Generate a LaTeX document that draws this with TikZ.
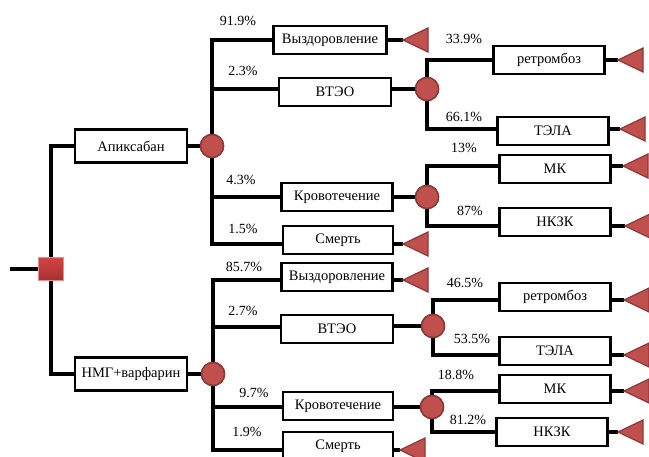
\documentclass[tikz,border=0pt]{standalone}
\usepackage{fontspec}
\setmainfont{Liberation Serif}
\definecolor{cred}{HTML}{C0504D}
\definecolor{cdark}{HTML}{8C3836}
\definecolor{sqtop}{HTML}{D24545}
\definecolor{sqbot}{HTML}{A83030}
\begin{document}
\begin{tikzpicture}[x=1pt,y=-1pt,
  txt/.style={font=\fontsize{14.5}{16}\selectfont},
  box/.style={draw, line width=2.6pt, fill=white, minimum width=111pt, minimum height=28pt, inner sep=0pt, txt},
  bigbox/.style={box, minimum width=112pt, minimum height=33pt},
  conn/.style={line width=3.2pt},
  chance/.style={circle, fill=cred, draw=cdark, line width=1.5pt, minimum size=23pt, inner sep=0pt},
  decide/.style={rectangle, top color=sqtop, bottom color=sqbot, draw=sqtop!60!white, line width=0.6pt, minimum width=25pt, minimum height=23pt, inner sep=0pt},
  prob/.style={font=\fontsize{14}{16}\selectfont, inner sep=0pt},
  term/.pic={\path[fill=cred, draw=cdark, line width=1.2pt, line join=miter] (0,0) -- (25,-12) -- (25,12) -- cycle;}
]
\clip (0,0) rectangle (649,457);

% root
\coordinate (root) at (10,269);
\node[decide] (sq) at (51,269) {};
\node[bigbox] (A) at (131,146) {Апиксабан};
\node[bigbox] (N) at (131,374) {НМГ+варфарин};
\node[chance] (c1) at (212,146) {};
\node[chance] (c2) at (213,374) {};

% top level-2 boxes
\node[box, minimum width=113pt] (b11) at (330,40) {Выздоровление};
\node[box, minimum width=112pt] (b12) at (335,92) {ВТЭО};
\node[box] (b13) at (337,197) {Кровотечение};
\node[box, minimum width=110pt] (b14) at (338,240) {Смерть};
\node[chance] (c12) at (427,89) {};
\node[chance] (c13) at (427,197) {};
\node[box] (b121) at (549,60) {ретромбоз};
\node[box] (b122) at (553,131) {ТЭЛА};
\node[box] (b131) at (555,169) {МК};
\node[box] (b132) at (555,222) {НКЗК};

% bottom level-2 boxes
\node[box] (b21) at (337,277) {Выздоровление};
\node[box, minimum width=112pt] (b22) at (337,329) {ВТЭО};
\node[box, minimum width=110pt] (b23) at (338,406) {Кровотечение};
\node[box, minimum width=110pt] (b24) at (338,446) {Смерть};
\node[chance] (c22) at (433,326) {};
\node[chance] (c23) at (432,407) {};
\node[box] (b221) at (555,297) {ретромбоз};
\node[box] (b222) at (555,351) {ТЭЛА};
\node[box] (b231) at (555,389) {МК};
\node[box] (b232) at (552,432) {НКЗК};

% terminal tips
\coordinate (t11) at (403,40);
\coordinate (t121) at (618,60);
\coordinate (t122) at (620,129);
\coordinate (t131) at (623,166);
\coordinate (t132) at (625,226);
\coordinate (t14) at (403,244);
\coordinate (t21) at (403,280);
\coordinate (t221) at (624,300);
\coordinate (t222) at (624,355);
\coordinate (t231) at (624,391);
\coordinate (t232) at (618,432);
\coordinate (t24) at (400,450);

% connectors
\begin{scope}[conn]
\draw (root) -- (sq);
\draw (sq.center) |- (A.west);
\draw (sq.center) |- (N.west);
\draw (A.east) -- (c1);
\draw (N.east) -- (c2);
% top
\draw (c1.center) |- (b11.west);
\draw (c1.center) |- ([yshift=3pt]b12.west);
\draw (c1.center) |- (b13.west);
\draw (c1.center) |- ([yshift=-4pt]b14.west);
\draw ([yshift=3pt]b12.east) -- (c12);
\draw (b13.east) -- (c13);
\draw (c12.center) |- (b121.west);
\draw (c12.center) |- ([yshift=2pt]b122.west);
\draw (c13.center) |- ([yshift=3pt]b131.west);
\draw (c13.center) |- ([yshift=-4pt]b132.west);
\draw (b11.east) -- (t11);
\draw (b121.east) -- (t121);
\draw ([yshift=2pt]b122.east) -- (t122);
\draw ([yshift=3pt]b131.east) -- (t131);
\draw ([yshift=-4pt]b132.east) -- (t132);
\draw ([yshift=-4pt]b14.east) -- (t14);
% bottom
\draw (c2.center) |- ([yshift=-3pt]b21.west);
\draw (c2.center) |- ([yshift=2pt]b22.west);
\draw (c2.center) |- ([yshift=-1pt]b23.west);
\draw (c2.center) |- ([yshift=-4pt]b24.west);
\draw ([yshift=3pt]b22.east) -- (c22);
\draw ([yshift=-1pt]b23.east) -- (c23);
\draw (c22.center) |- ([yshift=-3pt]b221.west);
\draw (c22.center) |- ([yshift=-4pt]b222.west);
\draw (c23.center) |- ([yshift=-2pt]b231.west);
\draw (c23.center) |- (b232.west);
\draw ([yshift=-3pt]b21.east) -- (t21);
\draw ([yshift=-3pt]b221.east) -- (t221);
\draw ([yshift=-4pt]b222.east) -- (t222);
\draw ([yshift=-2pt]b231.east) -- (t231);
\draw (b232.east) -- (t232);
\draw ([yshift=-4pt]b24.east) -- (t24);
\end{scope}

% redraw nodes over connectors
\node[bigbox] at (A) {Апиксабан};
\node[bigbox] at (N) {НМГ+варфарин};
\node[decide] at (sq) {};
\node[chance] at (c1) {};
\node[chance] at (c2) {};
\node[chance] at (c12) {};
\node[chance] at (c13) {};
\node[chance] at (c22) {};
\node[chance] at (c23) {};

% terminals
\foreach \t in {t11,t121,t122,t131,t132,t14,t21,t221,t222,t231,t232,t24} {\pic at (\t) {term};}

% probabilities
\node[prob] (p1) at (238,21) {91.9\%};
\node[prob] (p2) at (243,71) {2.3\%};
\node[prob] (p3) at (241,180) {4.3\%};
\node[prob] (p4) at (243,229) {1.5\%};
\node[prob] (p5) at (464,39) {33.9\%};
\node[prob] (p6) at (464,117) {66.1\%};
\node[prob] (p7) at (464,148) {13\%};
\node[prob] (p8) at (470,211) {87\%};
\node[prob] (p9) at (244,267) {85.7\%};
\node[prob] (p10) at (243,311) {2.7\%};
\node[prob] (p11) at (254,393) {9.7\%};
\node[prob] (p12) at (247,432) {1.9\%};
\node[prob] (p13) at (465,283) {46.5\%};
\node[prob] (p14) at (472,339) {53.5\%};
\node[prob] (p15) at (456,375) {18.8\%};
\node[prob] (p16) at (468,420) {81.2\%};
\end{tikzpicture}
\end{document}
